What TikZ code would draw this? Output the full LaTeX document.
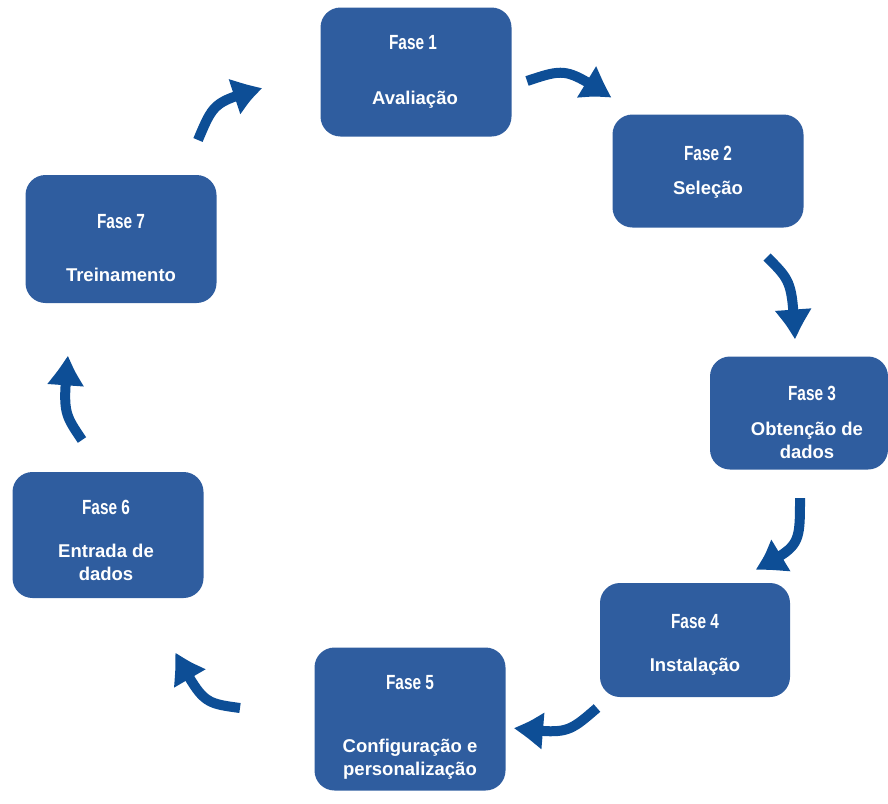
\documentclass[tikz,border=0pt]{standalone}
\usepackage{fontspec}
\setmainfont{Liberation Sans}
\newfontfamily\fasefont[FakeStretch=0.75]{Liberation Sans}
\usetikzlibrary{arrows.meta, bending}
\definecolor{boxblue}{RGB}{47, 93, 159}
\definecolor{arrowblue}{RGB}{13, 78, 150}

\begin{document}
\begin{tikzpicture}[x=1pt, y=-1pt,
    fasebox/.style={fill=boxblue, rounded corners=20pt, inner sep=0pt},
    fasetitle/.style={text=white, font=\fasefont\bfseries\fontsize{20.5}{20}\selectfont},
    fasetext/.style={text=white, align=center, font=\bfseries\fontsize{18.5}{23}\selectfont},
    fasearrow/.style={arrowblue, line width=10pt, -{Triangle[width=32pt,length=33pt,bend]}}]
			\useasboundingbox (0,0) rectangle (888,803);

			% Boxes
			\node[fasebox, minimum width=191, minimum height=129] (f1) at (416,72) {};
			\node[fasebox, minimum width=191, minimum height=113] (f2) at (708,171) {};
			\node[fasebox, minimum width=178, minimum height=113] (f3) at (799,413) {};
			\node[fasebox, minimum width=190, minimum height=114] (f4) at (695,640) {};
			\node[fasebox, minimum width=191, minimum height=143] (f5) at (410,719) {};
			\node[fasebox, minimum width=191, minimum height=126] (f6) at (108,535) {};
			\node[fasebox, minimum width=191, minimum height=128] (f7) at (121,239) {};

			% Titles
			\node[fasetitle] (t1) at (413,43) {Fase 1};
			\node[fasetitle] (t2) at (708,153) {Fase 2};
			\node[fasetitle] (t3) at (812,393) {Fase 3};
			\node[fasetitle] (t4) at (695,622) {Fase 4};
			\node[fasetitle] (t5) at (410,683) {Fase 5};
			\node[fasetitle] (t6) at (106,507) {Fase 6};
			\node[fasetitle] (t7) at (121,222) {Fase 7};

			% Phase names
			\node[fasetext] (d1) at (415,100) {Avaliação};
			\node[fasetext] (d2) at (708,190) {Seleção};
			\node[fasetext] (d3) at (807,440) {Obtenção de\\dados};
			\node[fasetext] (d4) at (695,667) {Instalação};
			\node[fasetext] (d5) at (410,759) {Configuração e\\personalização};
			\node[fasetext] (d6) at (106,562) {Entrada de\\dados};
			\node[fasetext] (d7) at (121,275) {Treinamento};

			% Arrow ends
			\coordinate (a1s) at (527,81);  \coordinate (a1e) at (612,98);
			\coordinate (a2s) at (767,257); \coordinate (a2e) at (795,340);
			\coordinate (a3s) at (800,498); \coordinate (a3e) at (755,570);
			\coordinate (a4s) at (597,708); \coordinate (a4e) at (513,728);
			\coordinate (a5s) at (240,708); \coordinate (a5e) at (175,652);
			\coordinate (a6s) at (82,440);  \coordinate (a6e) at (68,355);
			\coordinate (a7s) at (198,140); \coordinate (a7e) at (263,88);

			% Arrows
			\draw[fasearrow] (a1s) .. controls (566,68) .. (a1e);
			\draw[fasearrow] (a2s) .. controls (792,282) .. (a2e);
			\draw[fasearrow] (a3s) .. controls (800,546) .. (a3e);
			\draw[fasearrow] (a4s) .. controls (567,734) .. (a4e);
			\draw[fasearrow] (a5s) .. controls (203,703) .. (a5e);
			\draw[fasearrow] (a6s) .. controls (63,412) .. (a6e);
			\draw[fasearrow] (a7s) .. controls (214,102) .. (a7e);
		\end{tikzpicture}
\end{document}
